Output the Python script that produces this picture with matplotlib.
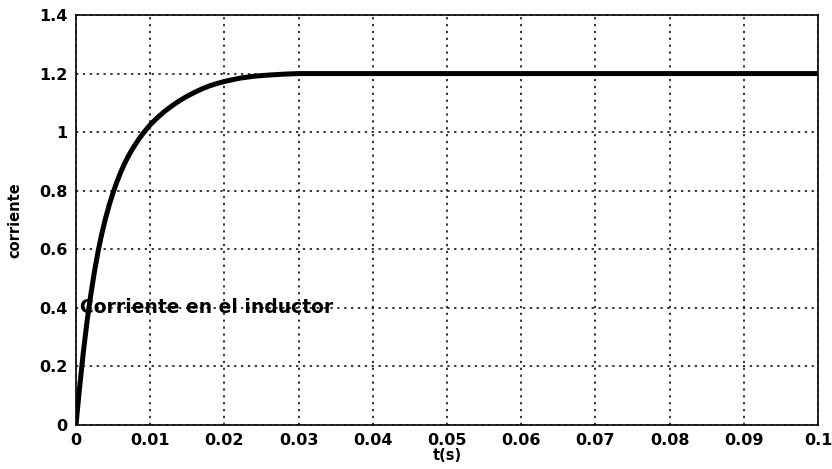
import matplotlib
matplotlib.use("Agg")
import matplotlib.pyplot as plt

t = [0, 0.0005, 0.001, 0.0015, 0.002, 0.0025, 0.003, 0.0035, 0.004, 0.0045,
     0.005, 0.0055, 0.006, 0.0065, 0.007, 0.0075, 0.008, 0.0085, 0.009, 0.0095,
     0.010, 0.011, 0.012, 0.013, 0.014, 0.015, 0.016, 0.017, 0.018, 0.019,
     0.020, 0.022, 0.024, 0.026, 0.028, 0.03, 0.05, 0.1]
i = [0, 0.13, 0.25, 0.355, 0.445, 0.525, 0.595, 0.655, 0.707, 0.753,
     0.793, 0.829, 0.861, 0.89, 0.915, 0.938, 0.958, 0.977, 0.994, 1.01,
     1.025, 1.05, 1.072, 1.091, 1.108, 1.123, 1.136, 1.148, 1.158, 1.166,
     1.173, 1.184, 1.191, 1.195, 1.198, 1.2, 1.2, 1.2]

xticks = [0, 0.01, 0.02, 0.03, 0.04, 0.05, 0.06, 0.07, 0.08, 0.09, 0.1]
xticklabels = ["0", "0.01", "0.02", "0.03", "0.04", "0.05", "0.06", "0.07", "0.08", "0.09", "0.1"]
yticks = [0, 0.2, 0.4, 0.6, 0.8, 1.0, 1.2, 1.4]
yticklabels = ["0", "0.2", "0.4", "0.6", "0.8", "1", "1.2", "1.4"]

plt.rcParams['font.family'] = ['DejaVu Sans']
plt.rcParams['font.weight'] = 'bold'

fig = plt.figure(figsize=(8.32, 4.69), dpi=100)
ax = fig.add_axes([0.0913, 0.094, 0.892, 0.874])
ax.plot(t, i, color='black', linewidth=3.6, solid_capstyle='round', solid_joinstyle='round')
ax.set_xlim(0, 0.1)
ax.set_ylim(0, 1.4)
ax.set_xticks(xticks)
ax.set_xticklabels(xticklabels, fontsize=11.5, fontweight='bold')
ax.set_yticks(yticks)
ax.set_yticklabels(yticklabels, fontsize=11.5, fontweight='bold')
ax.tick_params(length=0, pad=6)
ax.grid(True, color='black', linestyle=(0, (1.5, 3)), linewidth=1.1)
for s in ax.spines.values():
    s.set_linewidth(1.2)
ax.set_xlabel("t(s)", fontsize=10.5, fontweight='bold', labelpad=0)
ax.set_ylabel("corriente", fontsize=10.5, fontweight='bold', labelpad=12)
ax.text(0.0005, 0.4, "Corriente en el inductor", fontsize=13.5, fontweight='bold',
        ha='left', va='center')
fig.savefig("out.png", dpi=100)
